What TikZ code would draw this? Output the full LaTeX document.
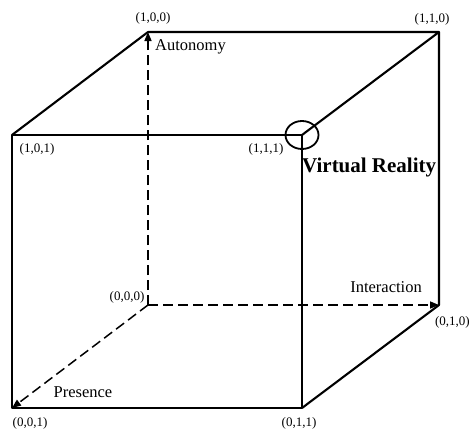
\documentclass[tikz,border=0pt]{standalone}
\usepackage{fontspec}
\setmainfont{Liberation Serif}
\usetikzlibrary{arrows.meta}
\begin{document}
\begin{tikzpicture}[x=1pt,y=-1pt,
  edge/.style={line width=2.1pt, line join=round},
  axis/.style={line width=1.5pt, dash pattern=on 10pt off 5pt, -{Triangle[length=9pt,width=7pt]}},
  coord/.style={font=\fontsize{13}{15}\selectfont, inner sep=0pt},
  axlab/.style={font=\fontsize{16.5}{18}\selectfont, inner sep=0pt},
  vrlab/.style={font=\fontsize{21}{23}\selectfont\bfseries, inner sep=0pt}]
\useasboundingbox (0,0) rectangle (471,431);
% vertices
\coordinate (v100) at (148,32);
\coordinate (v110) at (439,32);
\coordinate (v101) at (12,135);
\coordinate (v111) at (302,135);
\coordinate (v000) at (148,305);
\coordinate (v010) at (439,305);
\coordinate (v001) at (12,408);
\coordinate (v011) at (302,408);
% solid edges
\draw[edge] (v101) -- (v100) -- (v110) -- (v111);
\draw[edge] (v110) -- (v010) -- (v011);
\draw[edge, line width=1.5pt] (v101) -- (v111) -- (v011) -- (v001) -- cycle;
% dashed axes
\draw[axis] (v000) -- (v100);
\draw[axis] (v000) -- (v010);
\draw[axis] (v000) -- (v001);
% circle at (1,1,1)
\draw[line width=1.8pt] (v111) ellipse [x radius=16.5, y radius=14];
% coordinate labels
\node[coord] (l100) at (153,18) {(1,0,0)};
\node[coord] (l110) at (432,19) {(1,1,0)};
\node[coord] (l101) at (37,149) {(1,0,1)};
\node[coord] (l111) at (266,149) {(1,1,1)};
\node[coord] (l000) at (127,297) {(0,0,0)};
\node[coord, anchor=east] (l010) at (470,322) {(0,1,0)};
\node[coord] (l001) at (30,423) {(0,0,1)};
\node[coord] (l011) at (299,423) {(0,1,1)};
% axis labels
\node[axlab, anchor=west] (aut) at (155,47) {Autonomy};
\node[axlab] (int) at (386,287) {Interaction};
\node[axlab] (pre) at (83,392) {Presence};
\node[vrlab, anchor=west] (vr) at (302,167) {Virtual Reality};
\end{tikzpicture}
\end{document}
